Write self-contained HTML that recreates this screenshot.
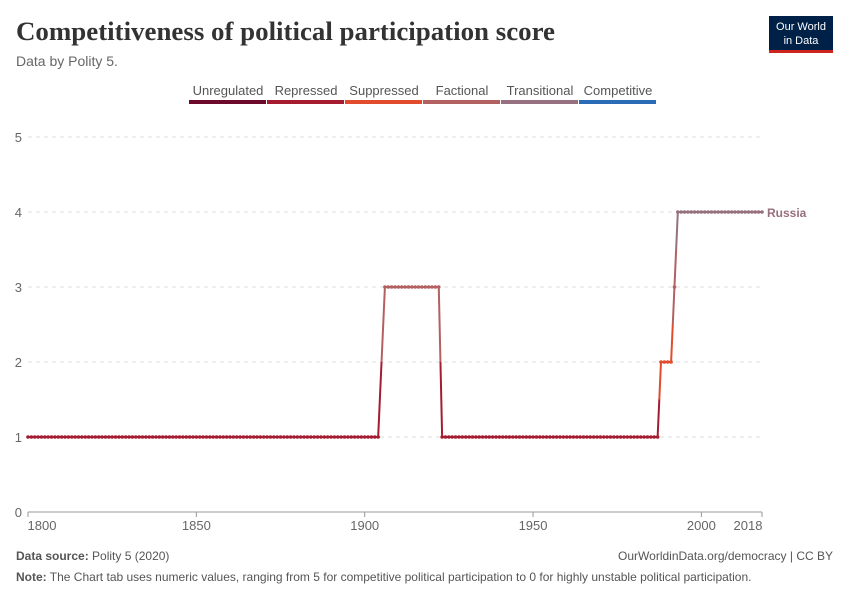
<!DOCTYPE html>
<html><head><meta charset="utf-8">
<style>
body{margin:0;background:#fff;width:850px;height:600px;overflow:hidden;font-family:"Liberation Sans",sans-serif;}
svg text{font-family:"Liberation Sans",sans-serif;}
</style></head>
<body>
<svg id="chart" width="850" height="600">
  <text x="16" y="40" font-size="26" font-weight="bold" fill="#333" textLength="539" lengthAdjust="spacingAndGlyphs" style="font-family:'Liberation Serif',serif">Competitiveness of political participation score</text>
  <text x="16" y="66" font-size="14" fill="#666">Data by Polity 5.</text>
  <g>
    <rect x="769" y="16" width="64" height="34" fill="#002147"/>
    <rect x="769" y="50" width="64" height="3" fill="#ce261e"/>
    <text x="801" y="30" font-size="11" fill="#fff" text-anchor="middle">Our World</text>
    <text x="801" y="44" font-size="11" fill="#fff" text-anchor="middle">in Data</text>
  </g>
  <g id="legend"></g>
  <g id="grid"></g>
  <g id="series"></g>
  <text x="16" y="560" font-size="12" fill="#555"><tspan font-weight="bold">Data source:</tspan> Polity 5 (2020)</text>
  <text x="833" y="560" font-size="12" fill="#555" text-anchor="end">OurWorldinData.org/democracy | CC BY</text>
  <text x="16" y="581" font-size="12" fill="#555"><tspan font-weight="bold">Note:</tspan> The Chart tab uses numeric values, ranging from 5 for competitive political participation to 0 for highly unstable political participation.</text>
</svg>
<script>
const legendLabels=["Unregulated","Repressed","Suppressed","Factional","Transitional","Competitive"];
const legendColors=["#6b0a2a","#a51c30","#e24b2e","#b36060","#97707f","#2a6cb5"];
const yTicks=[0,1,2,3,4,5];
const xTicks=[1800,1850,1900,1950,2000,2018];
const segStarts=[1800,1906,1923,1988,1992,1993];
const segEnds=[1904,1922,1987,1991,1992,2018];
const segValues=[1,3,1,2,3,4];
const NS="http://www.w3.org/2000/svg";
const x=y=>28+(y-1800)*(734/218);
const yS=v=>512-v*75;
const colorFor=v=>legendColors[Math.max(0,Math.min(5,Math.round(v)))];
function mk(tag,attrs,parent){const e=document.createElementNS(NS,tag);for(const k in attrs)e.setAttribute(k,attrs[k]);parent.appendChild(e);return e;}
const leg=document.getElementById('legend');
const lx0=189,lw=78;
legendLabels.forEach((l,i)=>{
  const t=mk('text',{x:lx0+i*lw+lw/2,y:95,'font-size':13,fill:'#555','text-anchor':'middle'},leg);
  t.textContent=l;
  
  
  const r=mk('rect',{x:lx0+i*lw,y:100,width:lw-1,height:4,fill:legendColors[i]},leg);
  
  
});
const g=document.getElementById('grid');
yTicks.forEach(v=>{
  if(v>0){const ln=mk('line',{x1:28,x2:762,y1:yS(v),y2:yS(v),stroke:'#ddd','stroke-dasharray':'4,4'},g);
  
  }
  const t=mk('text',{x:22,y:yS(v)+5,'font-size':13,fill:'#666','text-anchor':'end'},g);
  t.textContent=v;
  
  
});
const ax=mk('line',{x1:28,x2:762,y1:512,y2:512,stroke:'#999'},g);


xTicks.forEach((yr,i)=>{
  mk('line',{x1:x(yr),x2:x(yr),y1:512,y2:517,stroke:'#999'},g);
  let tx=x(yr);
  if(i===0)tx+=14;
  if(yr===2018)tx-=14;
  const t=mk('text',{x:tx,y:530,'font-size':13,fill:'#666','text-anchor':'middle'},g);
  t.textContent=yr;
  
  
});
const pts=[];
segStarts.forEach((s,i)=>{for(let yr=s;yr<=segEnds[i];yr++)pts.push([yr,segValues[i]]);});
const sg=document.getElementById('series');
for(let i=0;i<pts.length-1;i++){
  const [a,va]=pts[i],[b,vb]=pts[i+1];
  if(va===vb){
    const l=mk('line',{x1:x(a),y1:yS(va),x2:x(b),y2:yS(vb),stroke:colorFor(va),'stroke-width':2},sg);
    
    
  } else {
    const mx=(x(a)+x(b))/2,my=(yS(va)+yS(vb))/2;
    const l1=mk('line',{x1:x(a),y1:yS(va),x2:mx,y2:my,stroke:colorFor(va),'stroke-width':2},sg);
    
    
    const l2=mk('line',{x1:mx,y1:my,x2:x(b),y2:yS(vb),stroke:colorFor(vb),'stroke-width':2},sg);
    
    
  }
}
pts.forEach(([yr,v])=>{
  const c=mk('circle',{cx:x(yr),cy:yS(v),r:1.8,fill:colorFor(v)},sg);
  
  
});
const last=pts[pts.length-1];
const lb=mk('text',{x:x(last[0])+5,y:yS(last[1])+5,'font-size':12,'font-weight':'bold',fill:colorFor(last[1])},sg);
lb.textContent='Russia';


</script>
</body></html>
